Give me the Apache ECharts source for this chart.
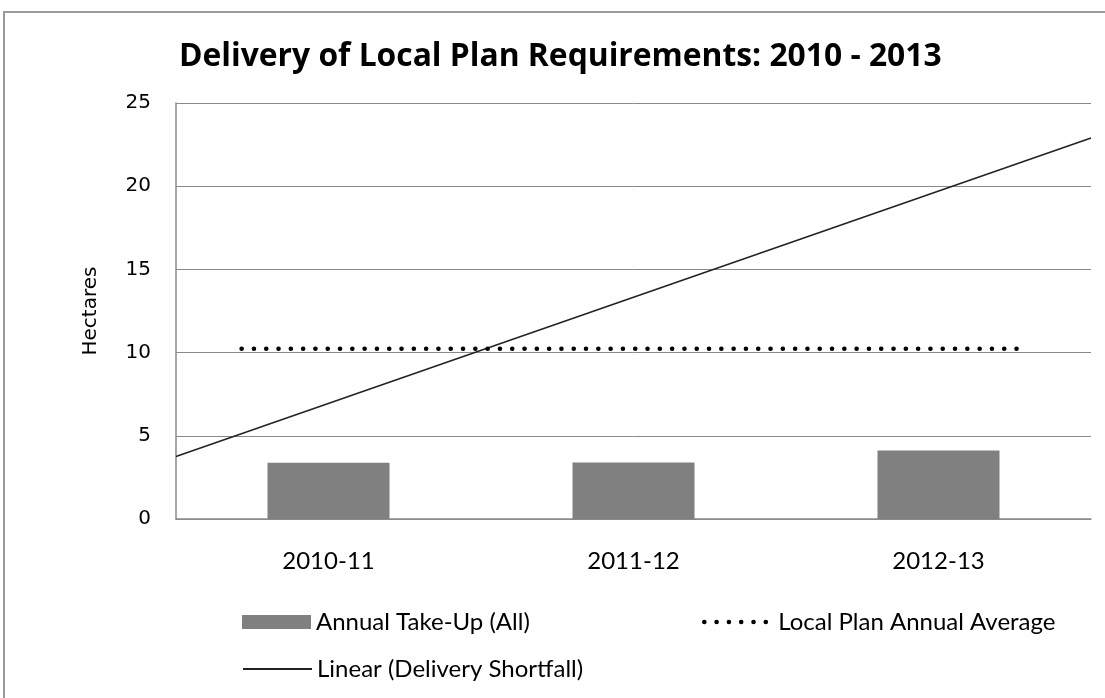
<!DOCTYPE html>
<html>
<head>
<meta charset="utf-8">
<script src="https://cdn.jsdelivr.net/npm/echarts@6/dist/echarts.min.js"></script>
<style>
html,body{margin:0;padding:0;background:#fff;}
#chart{width:1105px;height:698px;}
</style>
</head>
<body>
<div id="chart"></div>
<script>
// ---- data ----
const titleText = 'Delivery of Local Plan Requirements: 2010 - 2013';
const categories = ['2010-11', '2011-12', '2012-13'];
const takeUp = [3.38, 3.40, 4.12];                 // Annual Take-Up (All)
const localPlanAverage = 10.23;                     // Local Plan Annual Average
const localPlanSpan = [-0.285, 2.29];               // extent along category index
const shortfallTrendAtCats = [6.95, 13.33, 19.71];  // Linear (Delivery Shortfall) at categories
const trendExtend = 0.5;                            // forward/backward periods
const yMin = 0, yMax = 25, yStep = 5;
const seriesNames = ['Annual Take-Up (All)', 'Local Plan Annual Average', 'Linear (Delivery Shortfall)'];

// linear fit of the trend values (category index as x)
const n = shortfallTrendAtCats.length;
const xs = shortfallTrendAtCats.map((_, i) => i);
const mx = xs.reduce((a, b) => a + b, 0) / n;
const my = shortfallTrendAtCats.reduce((a, b) => a + b, 0) / n;
let sxy = 0, sxx = 0;
xs.forEach((x, i) => { sxy += (x - mx) * (shortfallTrendAtCats[i] - my); sxx += (x - mx) * (x - mx); });
const slope = sxy / sxx, icpt = my - slope * mx;
const tx0 = -trendExtend, tx1 = (n - 1) + trendExtend;
const trendData = [[tx0, icpt + slope * tx0], [tx1, icpt + slope * tx1]];
const avgData = localPlanSpan.map(x => [x, localPlanAverage]);

const FONT = 'Lato';
const TICKFONT = 'DejaVu Sans';
const dotStyle = {color: '#000', width: 4.5, type: [0.1, 12.2], cap: 'round'};
const legendText = {fontFamily: FONT, fontSize: 24, color: '#000'};
const chart = echarts.init(document.getElementById('chart'), null, {renderer: 'canvas'});
chart.setOption({
  animation: false,
  backgroundColor: '#fff',
  textStyle: {fontFamily: FONT},
  title: {
    text: titleText, left: 179, top: 41, padding: 0,
    textStyle: {fontFamily: 'Open Sans', fontSize: 31.8, fontWeight: 'bold', color: '#000'}
  },
  grid: {left: 176, top: 103, right: 14, bottom: 179, containLabel: false},
  graphic: [{
    type: 'rect', silent: true, z: -1,
    shape: {x: 4, y: 12, width: 1200, height: 800},
    style: {fill: 'none', stroke: '#9a9a9a', lineWidth: 2}
  }],
  legend: [
    {data: [{name: seriesNames[0], icon: 'rect'}], left: 237, top: 605, itemWidth: 69, itemHeight: 14, itemGap: 0,
     textStyle: legendText},
    {data: [{name: seriesNames[1], itemStyle: {opacity: 0}, lineStyle: dotStyle}], left: 697, top: 605,
     itemWidth: 69, itemHeight: 14, itemGap: 0, textStyle: legendText},
    {data: [{name: seriesNames[2], itemStyle: {opacity: 0}}], left: 237, top: 652, itemWidth: 69, itemHeight: 14, itemGap: 0,
     textStyle: legendText}
  ],
  xAxis: [
    {type: 'category', data: categories, boundaryGap: true,
     axisLine: {lineStyle: {color: '#8a8a8a', width: 1.5}},
     axisTick: {show: false},
     axisLabel: {fontFamily: FONT, fontSize: 24, color: '#000', margin: 30},
     splitLine: {show: false}},
    {type: 'value', min: -0.5, max: 2.5, show: false}
  ],
  yAxis: {
    type: 'value', min: yMin, max: yMax, interval: yStep,
    name: 'Hectares', nameLocation: 'middle', nameRotate: 90, nameGap: 75,
    nameTextStyle: {fontFamily: TICKFONT, fontSize: 20, color: '#000'},
    axisLine: {show: true, onZero: false, lineStyle: {color: '#8a8a8a', width: 1.5}},
    axisTick: {show: false},
    axisLabel: {fontFamily: TICKFONT, fontSize: 20, color: '#000', margin: 25},
    splitLine: {lineStyle: {color: '#8a8a8a', width: 1}}
  },
  series: [
    {name: seriesNames[0], type: 'bar', data: takeUp, barWidth: '40%',
     itemStyle: {color: '#808080'}, z: 2},
    {name: seriesNames[1], type: 'line', xAxisIndex: 1, data: avgData,
     symbol: 'none', z: 4,
     itemStyle: {color: '#000'},
     lineStyle: dotStyle},
    {name: seriesNames[2], type: 'line', xAxisIndex: 1, data: trendData,
     symbol: 'none', z: 3,
     itemStyle: {color: '#000'},
     lineStyle: {color: '#222', width: 1.5}}
  ]
});
</script>
</body>
</html>
